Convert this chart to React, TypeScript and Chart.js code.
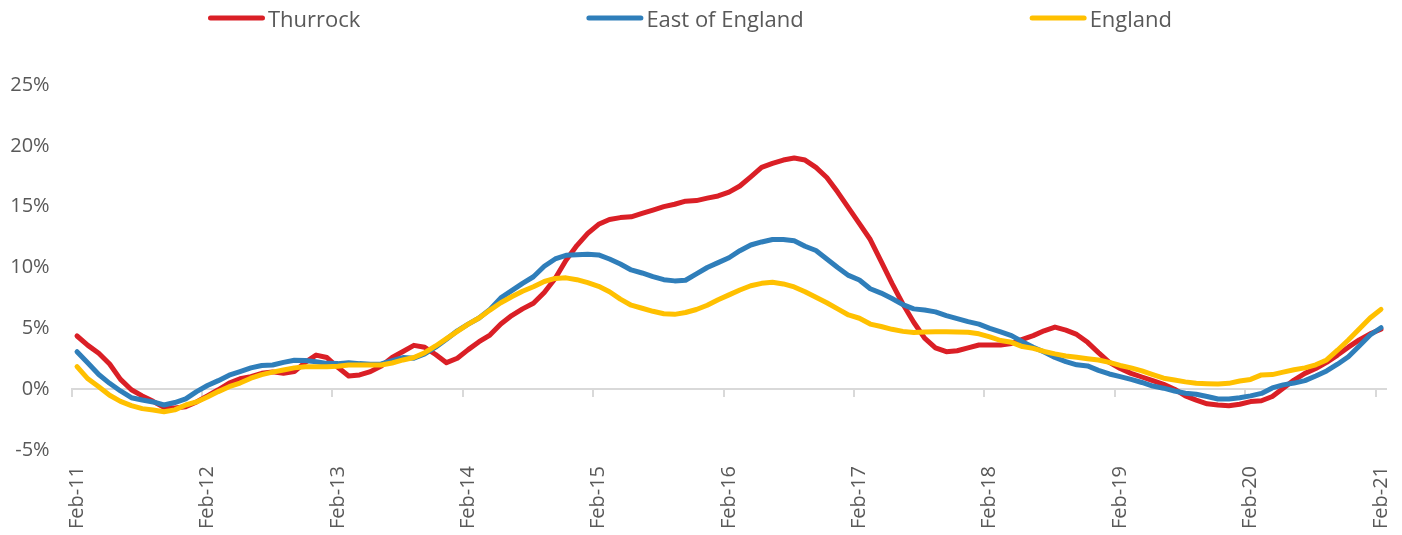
import React, { useEffect, useRef } from 'react';
import { Chart, registerables } from 'chart.js';

Chart.register(...registerables);

// Monthly categories Feb-11 .. Feb-21
const MONTHS = ['Jan', 'Feb', 'Mar', 'Apr', 'May', 'Jun', 'Jul', 'Aug', 'Sep', 'Oct', 'Nov', 'Dec'];
const START_YEAR = 11;
const END_YEAR = 21;
const categories: string[] = [];
for (let y = START_YEAR; y <= END_YEAR; y++) {
  for (let m = 0; m < 12; m++) {
    if (y === START_YEAR && m < 1) continue;
    if (y === END_YEAR && m > 1) continue;
    categories.push(`${MONTHS[m]}-${y}`);
  }
}

const seriesNames = ['Thurrock', 'East of England', 'England'];
const seriesColors = ['#DA1F26', '#2F7EBA', '#FFC000'];

const thurrock = [
  4.37, 3.6, 2.95, 2.07, 0.8, -0.05, -0.55, -1.0, -1.5, -1.55, -1.45, -1.05,
  -0.55, -0.05, 0.5, 0.85, 1.03, 1.3, 1.42, 1.3, 1.44, 2.2, 2.8, 2.6,
  1.8, 1.08, 1.17, 1.44, 1.9, 2.6, 3.1, 3.6, 3.44, 2.85, 2.18, 2.54,
  3.25, 3.9, 4.45, 5.35, 6.05, 6.6, 7.06, 7.95, 9.1, 10.6, 11.8, 12.8,
  13.55, 13.95, 14.1, 14.17, 14.45, 14.72, 15.0, 15.2, 15.45, 15.5, 15.7, 15.88,
  16.2, 16.7, 17.45, 18.23, 18.55, 18.83, 19.0, 18.83, 18.23, 17.4, 16.2, 14.9,
  13.6, 12.3, 10.5, 8.7, 7.0, 5.5, 4.2, 3.4, 3.08, 3.16, 3.4, 3.63,
  3.63, 3.63, 3.75, 4.1, 4.4, 4.8, 5.1, 4.85, 4.5, 3.85, 3.0, 2.2,
  1.7, 1.3, 1.0, 0.7, 0.4, 0.0, -0.55, -0.9, -1.2, -1.3, -1.36, -1.24,
  -1.02, -0.95, -0.6, 0.07, 0.75, 1.3, 1.7, 2.2, 2.8, 3.45, 4.05, 4.55,
  4.92,
];

const eastOfEngland = [
  3.08, 2.15, 1.2, 0.48, -0.15, -0.7, -0.89, -1.05, -1.3, -1.1, -0.8, -0.2,
  0.3, 0.7, 1.15, 1.44, 1.75, 1.95, 1.99, 2.2, 2.38, 2.36, 2.25, 2.12,
  2.1, 2.18, 2.1, 2.05, 2.07, 2.35, 2.6, 2.55, 2.9, 3.45, 4.1, 4.8,
  5.35, 5.85, 6.56, 7.5, 8.1, 8.7, 9.24, 10.1, 10.7, 11.0, 11.05, 11.08,
  11.03, 10.7, 10.29, 9.8, 9.55, 9.25, 9.0, 8.9, 8.95, 9.47, 10.0, 10.4,
  10.8, 11.38, 11.85, 12.1, 12.3, 12.3, 12.2, 11.75, 11.4, 10.7, 10.0, 9.35,
  8.97, 8.25, 7.9, 7.45, 6.95, 6.6, 6.5, 6.35, 6.05, 5.8, 5.55, 5.35,
  5.0, 4.7, 4.4, 3.9, 3.45, 3.05, 2.6, 2.26, 2.0, 1.91, 1.55, 1.25,
  1.03, 0.8, 0.55, 0.26, 0.08, -0.15, -0.34, -0.42, -0.6, -0.81, -0.81, -0.7,
  -0.55, -0.35, 0.1, 0.35, 0.5, 0.7, 1.08, 1.5, 2.05, 2.67, 3.55, 4.45,
  5.05,
];

const england = [
  1.85, 0.85, 0.2, -0.5, -1.0, -1.35, -1.6, -1.71, -1.85, -1.7, -1.3, -1.05,
  -0.65, -0.2, 0.2, 0.5, 0.9, 1.2, 1.4, 1.58, 1.75, 1.85, 1.85, 1.85,
  1.88, 1.99, 1.99, 1.99, 1.99, 2.15, 2.4, 2.6, 3.0, 3.55, 4.15, 4.75,
  5.35, 5.85, 6.5, 7.1, 7.6, 8.05, 8.42, 8.85, 9.1, 9.15, 9.0, 8.75,
  8.45, 8.01, 7.4, 6.9, 6.65, 6.4, 6.2, 6.15, 6.3, 6.55, 6.9, 7.35,
  7.75, 8.15, 8.5, 8.7, 8.78, 8.65, 8.4, 8.0, 7.55, 7.1, 6.6, 6.1,
  5.83, 5.35, 5.15, 4.92, 4.75, 4.65, 4.7, 4.72, 4.72, 4.7, 4.68, 4.55,
  4.3, 4.0, 3.85, 3.5, 3.35, 3.1, 2.9, 2.73, 2.62, 2.5, 2.4, 2.2,
  1.95, 1.75, 1.5, 1.2, 0.9, 0.75, 0.6, 0.48, 0.45, 0.43, 0.48, 0.67,
  0.8, 1.17, 1.2, 1.4, 1.6, 1.75, 2.0, 2.4, 3.2, 4.04, 4.95, 5.85,
  6.56,
];

const yMin = -5;
const yMax = 25;
const yStep = 5;
const labelEvery = 12;

const FONT_FAMILY = '"Open Sans", "DejaVu Sans", sans-serif';
const TEXT_COLOR = '#595959';
const AXIS_COLOR = '#d9d9d9';

const legendPlugin = {
  id: 'customLegend',
  afterDraw(chart: any) {
    const ctx = chart.ctx as CanvasRenderingContext2D;
    ctx.save();
    ctx.font = `22px ${FONT_FAMILY}`;
    const swatch = 57;
    const textGap = 3;
    const gap = 226;
    const items = seriesNames.map((n, i) => ({
      name: n,
      color: seriesColors[i],
      w: swatch + textGap + ctx.measureText(n).width,
    }));
    const total = items.reduce((s, it) => s + it.w, 0) + gap * (items.length - 1);
    let x = chart.width / 2 - 11 - total / 2;
    const yLine = 18;
    for (const it of items) {
      ctx.strokeStyle = it.color;
      ctx.lineWidth = 5;
      ctx.lineCap = 'round';
      ctx.beginPath();
      ctx.moveTo(x + 2.5, yLine);
      ctx.lineTo(x + swatch - 2.5, yLine);
      ctx.stroke();
      ctx.fillStyle = TEXT_COLOR;
      ctx.textBaseline = 'alphabetic';
      ctx.textAlign = 'left';
      ctx.fillText(it.name, x + swatch + textGap, 26.5);
      x += it.w + gap;
    }
    ctx.restore();
  },
};

export default function App() {
  const ref = useRef<HTMLCanvasElement>(null);

  useEffect(() => {
    if (!ref.current) return;
    const series = [thurrock, eastOfEngland, england];
    const chart = new Chart(ref.current, {
      type: 'line',
      data: {
        labels: categories,
        datasets: series.map((d, i) => ({
          label: seriesNames[i],
          data: d,
          borderColor: seriesColors[i],
          backgroundColor: seriesColors[i],
          borderWidth: 5,
          pointRadius: 0,
          pointHoverRadius: 0,
          tension: 0,
          fill: false,
          borderJoinStyle: 'round' as const,
          borderCapStyle: 'round' as const,
          order: 3 - i,
        })),
      },
      options: {
        responsive: true,
        maintainAspectRatio: false,
        animation: false,
        events: [],
        layout: { padding: { top: 85, right: 15.6, bottom: 0, left: 0 } },
        plugins: {
          legend: { display: false },
          tooltip: { enabled: false },
        },
        scales: {
          x: {
            type: 'category',
            position: 'bottom',
            offset: true,
            grid: { display: false, drawTicks: false },
            border: { display: false },
            ticks: {
              autoSkip: false,
              maxRotation: 90,
              minRotation: 90,
              padding: 16,
              color: TEXT_COLOR,
              font: { family: FONT_FAMILY, size: 20 },
              callback: (_v: any, i: number) => (i % labelEvery === 0 ? categories[i] : ''),
            },
            afterFit: (s: any) => {
              s.height = 85;
              s.paddingLeft = 0;
              s.paddingRight = 0;
            },
          },
          x2: {
            type: 'category',
            axis: 'x',
            labels: categories,
            position: { y: 0 },
            offset: true,
            grid: {
              display: true,
              offset: true,
              drawOnChartArea: false,
              drawTicks: true,
              tickLength: 7,
              lineWidth: 2,
              tickWidth: 2,
              tickColor: (c: any) => (c.index % labelEvery === 0 ? AXIS_COLOR : 'rgba(0,0,0,0)'),
            },
            border: { display: true, color: AXIS_COLOR, width: 2 },
            ticks: { display: false, autoSkip: false },
            afterFit: (s: any) => {
              s.paddingLeft = 0;
              s.paddingRight = 0;
            },
          } as any,
          y: {
            min: yMin,
            max: yMax,
            grid: { display: false, drawTicks: false },
            border: { display: false },
            ticks: {
              stepSize: yStep,
              padding: 22,
              color: TEXT_COLOR,
              font: { family: FONT_FAMILY, size: 20 },
              callback: (v: any) => `${v}%`,
            },
            afterFit: (s: any) => {
              s.width = 71.6;
              s.paddingTop = 0;
              s.paddingBottom = 0;
            },
          },
        },
      },
      plugins: [legendPlugin],
    });
    return () => chart.destroy();
  }, []);

  return (
    <div style={{ position: 'fixed', left: 0, top: 0, width: 1402, height: 535 }}>
      <canvas ref={ref} />
    </div>
  );
}
